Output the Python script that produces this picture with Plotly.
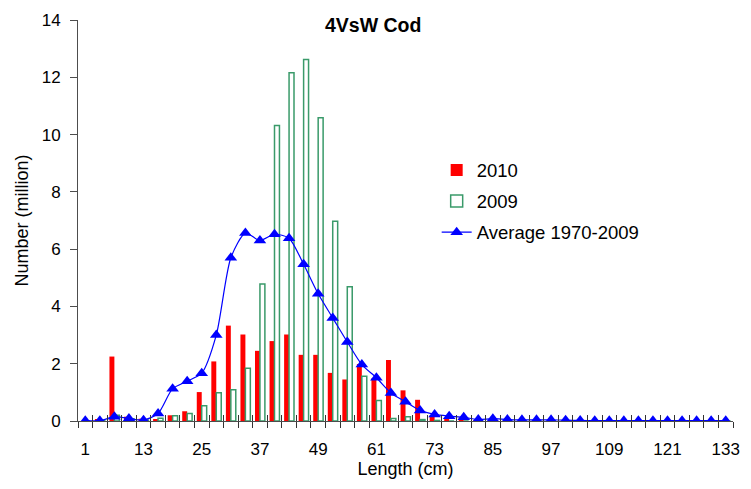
import plotly.graph_objects as go

lengths = list(range(1, 134, 3))

avg_1970_2009 = [0.01, 0.01, 0.15, 0.09, 0.03, 0.26, 1.13, 1.39, 1.67, 3.0,
                 5.7, 6.56, 6.3, 6.52, 6.38, 5.47, 4.44, 3.6, 2.76, 1.97,
                 1.51, 0.98, 0.67, 0.37, 0.23, 0.17, 0.13, 0.05, 0.08, 0.05,
                 0.04, 0.04, 0.04, 0.03, 0.02, 0.01, 0.01, 0.01, 0.01, 0.01,
                 0.01, 0.01, 0.01, 0.01, 0.01]

n2010 = [0, 0.05, 2.25, 0.15, 0.08, 0.05, 0.2, 0.34, 1.01, 2.08,
         3.33, 3.02, 2.45, 2.79, 3.02, 2.31, 2.31, 1.68, 1.45, 1.99,
         1.49, 2.13, 1.07, 0.74, 0.2, 0.05, 0.12, 0.02, 0, 0,
         0, 0, 0, 0, 0, 0, 0, 0, 0, 0,
         0, 0, 0, 0, 0]

n2009 = [0, 0.02, 0.2, 0.08, 0.03, 0.1, 0.18, 0.26, 0.53, 0.99,
         1.09, 1.84, 4.78, 10.32, 12.16, 12.62, 10.59, 6.97, 4.69, 1.56,
         0.72, 0.09, 0.15, 0.05, 0.02, 0, 0, 0, 0, 0,
         0, 0, 0, 0, 0, 0, 0, 0, 0, 0,
         0, 0, 0, 0, 0]

label_ticks = list(range(1, 134, 12))
boundaries = [l - 1.5 for l in lengths] + [lengths[-1] + 1.5]

font_family = "Liberation Sans, Arial, sans-serif"
axis_col = "#4d4d4d"
xr = [lengths[0] - 1.5, lengths[-1] + 1.5]

fig = go.Figure()
fig.add_trace(go.Bar(x=lengths, y=n2010, name="2010", legendgroup="a",
                     marker=dict(color="#ff0000", line=dict(width=0))))
fig.add_trace(go.Bar(x=lengths, y=n2009, name="2009", legendgroup="b",
                     marker=dict(color="white", line=dict(color="#3a9a6a", width=1.5))))
fig.add_trace(go.Scatter(x=lengths, y=avg_1970_2009, name="Average 1970-2009", legendgroup="c",
                         mode="lines+markers",
                         line=dict(color="#0000ff", width=1.2, shape="spline", smoothing=0.7),
                         marker=dict(symbol="triangle-up", size=11, color="#0000ff")))
# invisible helpers for tick-mark axes
for ax in ["x2", "x3"]:
    fig.add_trace(go.Scatter(x=[lengths[0]], y=[0], xaxis=ax, mode="markers",
                             marker=dict(opacity=0), showlegend=False, hoverinfo="skip"))

fig.update_layout(
    width=751, height=489,
    margin=dict(l=78, r=11, t=15, b=68),
    paper_bgcolor="white", plot_bgcolor="white",
    font=dict(family=font_family, size=17, color="black"),
    barmode="group", bargap=0.32, bargroupgap=0,
    title=dict(text="<b>4VsW Cod</b>", x=0.497, xref="container", y=0.949, yref="container",
               xanchor="center", yanchor="middle", font=dict(size=19.5, color="black")),
    showlegend=True,
    legend=dict(x=0.5476, y=0.672, xanchor="left", yanchor="top", bgcolor="rgba(0,0,0,0)",
                font=dict(size=18.5), tracegroupgap=4, traceorder="grouped"),
    xaxis=dict(range=xr, tickmode="array", tickvals=label_ticks, ticks="",
               showgrid=False, zeroline=False, showline=True, linecolor=axis_col, linewidth=1,
               title=dict(text="Length (cm)", font=dict(size=18), standoff=0),
               tickfont=dict(size=17), ticklabelstandoff=13),
    xaxis2=dict(range=xr, overlaying="x", anchor="y", side="bottom", tickmode="array",
                tickvals=boundaries, ticks="outside", ticklen=6, tickcolor="#333333",
                showticklabels=False, showgrid=False, zeroline=False, showline=False),
    xaxis3=dict(range=xr, overlaying="x", anchor="y", side="bottom", tickmode="array",
                tickvals=boundaries, ticks="inside", ticklen=6, tickcolor="#333333",
                showticklabels=False, showgrid=False, zeroline=False, showline=False),
    yaxis=dict(range=[0, 14], dtick=2, ticks="outside", ticklen=7, tickcolor=axis_col,
               showgrid=False, zeroline=False, showline=True, linecolor=axis_col, linewidth=1,
               title=dict(text="Number (million)", font=dict(size=18), standoff=8),
               tickfont=dict(size=17), ticklabelstandoff=6),
)

fig.write_html("out.html")
